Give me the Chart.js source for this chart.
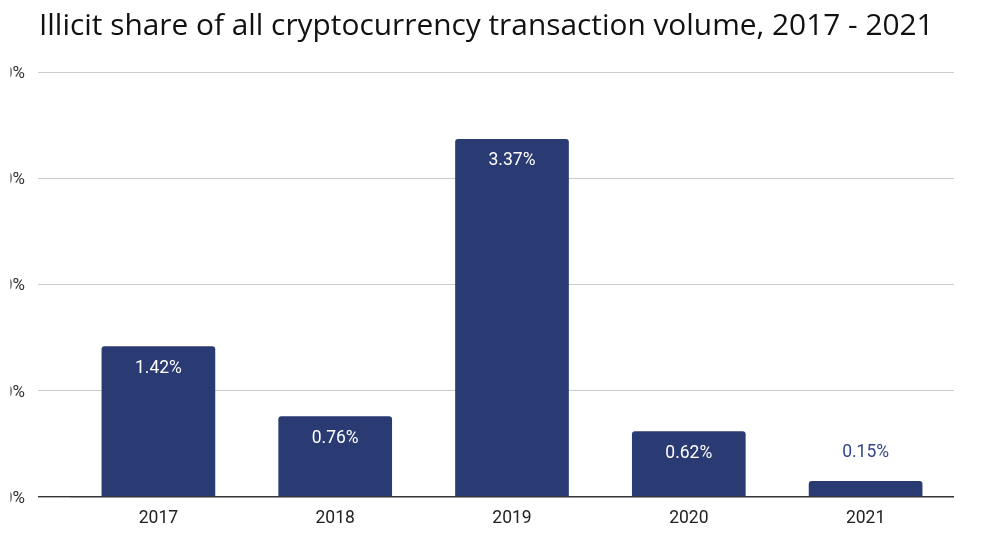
<!DOCTYPE html>
<html>
<head>
<meta charset="utf-8">
<script src="https://cdn.jsdelivr.net/npm/chart.js@4.4.0/dist/chart.umd.min.js"></script>
<style>
  html, body { margin: 0; padding: 0; background: #fff; }
  #wrap { position: relative; width: 984px; height: 555px; }
</style>
</head>
<body>
<div id="wrap"><canvas id="chart"></canvas></div>
<script>
const titleText = 'Illicit share of all cryptocurrency transaction volume, 2017 - 2021';
const years = ['2017', '2018', '2019', '2020', '2021'];
const illicitShare = [1.42, 0.76, 3.37, 0.62, 0.15];
const yTicks = [0, 1, 2, 3, 4];

const barColor = '#2a3a72';
const outsideLabelColor = '#34468a';

// title drawn at the left edge of the gridlines, sized to the reference width
const titlePlugin = {
  id: 'leftTitle',
  afterDraw(chart) {
    const ctx = chart.ctx;
    ctx.save();
    let size = 28;
    ctx.font = size + 'px "Open Sans"';
    const w = ctx.measureText(titleText).width;
    size = size * 895 / w;
    ctx.font = size + 'px "Open Sans"';
    ctx.fillStyle = '#111';
    ctx.textBaseline = 'alphabetic';
    ctx.textAlign = 'left';
    ctx.fillText(titleText, 39, 35);
    ctx.restore();
  }
};

// the y labels are cut off at the left edge like in the source image
const clipYLabels = {
  id: 'clipYLabels',
  beforeDraw(chart) {
    const s = chart.scales.y;
    if (s._clipped) return;
    const orig = s.drawLabels.bind(s);
    s.drawLabels = function (area) {
      const ctx = chart.ctx;
      ctx.save();
      ctx.beginPath();
      ctx.rect(10.5, 0, chart.width, chart.height);
      ctx.clip();
      ctx.translate(0, 1.5);
      orig(area);
      ctx.restore();
    };
    s._clipped = true;
  }
};

// value labels: inside the bar top, or above it when the bar is too short
const valueLabels = {
  id: 'valueLabels',
  afterDatasetsDraw(chart) {
    const ctx = chart.ctx;
    const meta = chart.getDatasetMeta(0);
    ctx.save();
    ctx.font = '17.5px Roboto';
    ctx.textAlign = 'center';
    ctx.textBaseline = 'middle';
    meta.data.forEach((bar, i) => {
      const text = illicitShare[i].toFixed(2) + '%';
      const h = bar.base - bar.y;
      if (h > 40) {
        ctx.fillStyle = '#ffffff';
        ctx.fillText(text, bar.x, bar.y + 22);
      } else {
        ctx.fillStyle = outsideLabelColor;
        ctx.fillText(text, bar.x, bar.y - 28);
      }
    });
    ctx.restore();
  }
};

new Chart(document.querySelector('#chart'), {
  type: 'bar',
  data: {
    labels: years,
    datasets: [{
      data: illicitShare,
      backgroundColor: barColor,
      borderRadius: 3,
      borderSkipped: 'start',
      categoryPercentage: 1,
      barPercentage: 0.643
    }]
  },
  options: {
    responsive: true,
    maintainAspectRatio: false,
    animation: false,
    layout: { padding: { left: 0, right: 30, top: 72, bottom: 0 } },
    plugins: {
      legend: { display: false },
      title: { display: false },
      tooltip: { enabled: false }
    },
    scales: {
      x: {
        grid: { display: false, drawTicks: false },
        border: { display: false },
        ticks: { color: '#222', font: { family: 'Roboto', size: 17.5 }, padding: 11 },
        afterFit(scale) { scale.height = 58; }
      },
      y: {
        min: 0,
        max: 4,
        afterBuildTicks(scale) { scale.ticks = yTicks.map(v => ({ value: v })); },
        grid: {
          drawTicks: true,
          tickLength: 32,
          color: c => (c.tick && c.tick.value === 0 ? '#333333' : '#cccccc'),
          lineWidth: c => (c.tick && c.tick.value === 0 ? 1.4 : 1)
        },
        border: { display: false },
        ticks: {
          color: '#333',
          font: { family: 'Roboto', size: 17 },
          padding: 13,
          callback: v => v.toFixed(2) + '%'
        },
        afterFit(scale) { scale.width = 70; }
      }
    }
  },
  plugins: [titlePlugin, clipYLabels, valueLabels]
});
</script>
</body>
</html>
